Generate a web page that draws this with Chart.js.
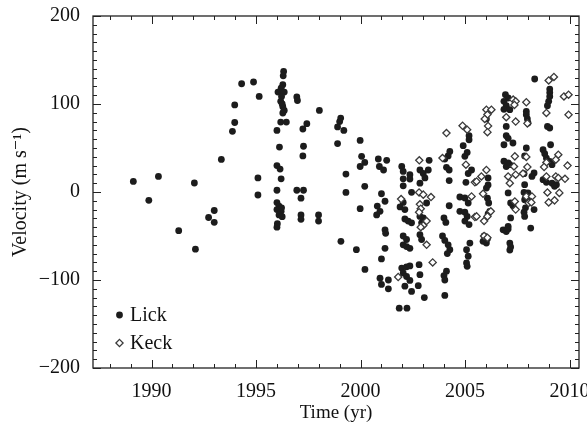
<!DOCTYPE html>
<html>
<head>
<meta charset="utf-8">
<script src="https://cdn.jsdelivr.net/npm/chart.js"></script>
<style>
  html, body { margin: 0; padding: 0; background: #fff; }
  #wrap { width: 587px; height: 426px; }
</style>
</head>
<body>
<div id="wrap"><canvas id="myChart" width="587" height="426"></canvas></div>
<script>
// Lick observations (year, m/s)
const lickYear = [
  1989.13, 1989.87, 1990.33, 1991.3, 1992.05, 1992.1, 1992.73, 1993.0, 1993.0, 1993.34,
  1993.87, 1993.98, 1993.98, 1994.31, 1994.88, 1995.15, 1995.09, 1995.09,
  1996.32, 1996.28, 1996.2, 1996.05, 1996.35, 1996.22, 1996.18, 1996.28, 1996.35, 1996.28,
  1996.18, 1996.45, 1996.0, 1996.12, 1996.0, 1996.15, 1996.2, 1996.0, 1996.0, 1996.1,
  1996.0, 1996.2, 1996.1, 1996.25, 1996.0, 1996.02, 1996.22, 1996.3, 1996.25,
  1996.95, 1996.98, 1997.43, 1997.24, 1997.27, 1997.24, 1996.95, 1997.27, 1997.15, 1997.15,
  1997.15, 1997.99, 1997.99, 1998.03,
  1999.05, 1999.0, 1998.9, 1999.2, 1998.9, 1999.98, 2000.05, 2000.2, 1999.98, 1999.3,
  2000.2, 1999.3, 1999.98, 1999.06, 1999.8, 2000.21,
  2000.85, 2001.25, 2000.9, 2001.1, 2001.0, 2001.17, 2000.8, 2000.93, 2000.77, 2001.17,
  2001.2, 2001.17, 2001.0, 2000.93, 2001.33, 2001.0, 2001.33, 2001.85, 2002.22,
  2001.97, 2002.04, 2002.36, 2002.04, 2002.36, 2002.04, 2002.44, 2002.04, 2001.89, 2002.12,
  2002.12, 2002.28, 2002.44, 2002.04, 2002.2, 2002.04, 2002.2, 2002.36,
  2001.97, 2002.2, 2002.36, 2002.04, 2002.2, 2002.36, 2002.12, 2002.44, 2002.8, 2002.84,
  2002.76, 2003.05,
  2003.28, 2002.84, 2003.0, 2003.24, 2003.08, 2002.84, 2003.16, 2002.84, 2003.0, 2003.08,
  2002.92, 2002.84, 2002.92,
  2004.27, 2004.19, 2004.03, 2004.11, 2004.24, 2004.24, 2004.24, 2003.99, 2004.08, 2003.92,
  2004.03, 2004.19, 2004.27, 2004.15, 2004.11, 2003.99, 2004.03, 2004.03,
  2005.19, 2005.19, 2004.91, 2005.1, 2004.99, 2005.31, 2005.15, 2005.04, 2004.75, 2004.99,
  2005.15, 2004.75, 2004.99, 2005.1, 2004.99, 2005.19, 2005.23, 2005.07, 2005.15, 2005.07,
  2005.1,
  2006.02, 2006.1, 2006.1, 2006.02, 2006.07, 2006.13, 2006.18, 2006.1, 2005.91, 2006.07,
  2006.02, 2005.86,
  2006.93, 2007.06, 2006.86, 2006.97, 2006.86, 2007.14, 2006.97, 2006.97, 2007.06, 2006.86,
  2007.29, 2006.86, 2007.06, 2006.97, 2007.14, 2007.06, 2007.18, 2007.29, 2007.18, 2007.06,
  2006.82, 2006.97, 2007.06, 2007.14, 2007.18, 2007.14,
  2008.33, 2007.93, 2007.93, 2007.98, 2008.01, 2007.93, 2007.85, 2008.3, 2008.2, 2007.82,
  2007.85, 2007.82, 2008.01, 2007.85, 2008.09, 2008.3, 2007.89, 2007.82, 2007.85, 2008.14,
  2009.05, 2009.05, 2009.05, 2009.0, 2008.94, 2008.94, 2009.05, 2009.09, 2008.73, 2008.81,
  2008.89, 2009.05, 2009.16, 2008.73, 2008.89, 2009.16, 2009.37, 2009.28
];
const lickVel = [
  12, -9.5, 17.7, -44, 10.2, -65, -29, -21, -34.5, 37,
  69, 79, 99, 123, 125, 108.6, 16, -3.4,
  137, 122, 118, 113.6, 113.6, 108.6, 103, 97, 92.7, 89.8,
  79.5, 79.5, 70, 51, 30, 26, 15, 2, -12, -16,
  -20, -22, -26, -28, -40, -36, -18, 132, 100,
  108, 104, 77.6, 71.6, 52, 41, 2, 2, -7, -26,
  -31, -26, -33, 92.7,
  84, 80, 74, 70, 55, 58.6, 40.5, 33.6, 29, 20.4,
  6.4, -0.5, -19, -56, -65.5, -88,
  37.5, 36, 29, 25, -2, -10.5, -16, -22, -26, -43,
  -47, -64, -76, -98, -100, -105, -110, -132, -132,
  29, 23.4, 19.7, 15, 14.8, 7, -0.4, -11.8, -17, -20,
  -30.7, -33, -35, -50, -54, -60, -62, -64,
  -86.4, -85, -84, -92, -96, -100.5, -107, -113, -82.6, -94,
  -106.5, -120,
  36, 25, 21, 25, 16, 10, -12.5, -27.7, -29.5, -33,
  -35, -48.5, -54,
  46, 41, 37.5, 28, 25, 13, -15.6, -29.5, -34.6, -50,
  -55, -60, -65.6, -70, -90, -95, -100, -117.5,
  64, 59.4, 52.6, 45, 40.5, 25, 21, 11, -5.7, -6.8,
  -12.5, -22, -23, -27.7, -33, -37, -58, -65.6, -73, -80.7,
  -84.5,
  83, 16, 8, 4.5, -7, -12.5, -22, -25, -50, -53,
  -58, -56,
  110.6, 106.8, 103, 98, 94, 93.5, 74.5, 64, 61, 53.7,
  55.7, 35, 33, 29, 31, -1, -12.5, -15.6, -29.5, -39,
  -43, -45, -42, -58, -62.5, -66,
  128.4, 91.6, 87.8, 83, 78.4, 50, 41, 21.6, 17.7, 20.8,
  8.3, -0.5, -1, -8.7, -9.5, -20, -18, -23, -27.7, -41,
  117, 113, 108.6, 103, 98, 74.5, 72.7, 53.7, 48, 43.5,
  38.6, 34.8, 31, 14, 11, 10, 8.3, 6.4
];

// Keck observations (year, m/s)
const keckYear = [
  2001.8, 2001.94, 2002.81, 2002.8, 2003.0, 2003.37, 2002.84, 2002.88, 2002.8, 2003.16,
  2003.0, 2002.88, 2003.16, 2003.45,
  2004.11, 2003.92, 2004.88, 2005.1, 2005.04, 2005.47, 2005.31, 2005.47,
  2006.02, 2006.26, 2006.07, 2005.94, 2006.1, 2006.07, 2006.02, 2005.78, 2005.55, 2005.86,
  2006.23, 2006.07, 2005.91, 2005.55, 2005.91, 2006.07,
  2007.3, 2007.42, 2007.36, 2006.97, 2007.42, 2007.38, 2007.34, 2007.06, 2007.14, 2007.42,
  2007.38, 2007.42,
  2007.93, 2007.98, 2007.93, 2007.98, 2007.77, 2007.93, 2008.2, 2008.04, 2008.17,
  2009.0, 2009.25, 2008.89, 2009.46, 2009.34, 2008.89, 2008.78, 2008.89, 2009.34, 2009.46,
  2008.94, 2009.51, 2009.0, 2009.28,
  2009.73, 2009.95, 2009.95, 2009.9, 2009.78
];
const keckVel = [
  -96.6, -8, 36, -0.5, -3, -5.7, -14, -19, -23, -33,
  -38, -40, -60, -80,
  67, 38.6, 75.3, 70.8, 31, 11, -5, -28.4,
  93.5, 93.5, 88, 83, 75, 68, 25, 17.7, 12, -2,
  -22, -27.7, -33, -27.7, -50, -52,
  105, 103, 99, 85, 80, 40.5, 29, 17.7, 10, 19.7,
  -10.7, -20,
  102, 78, 39.8, 28.4, 21, -5, -5, -12.5, -11.8,
  126.8, 130.7, 89.8, 42.4, 36.7, 33.6, 28.4, 17.7, 17.7, 16,
  -0.5, -1, -11.8, -9.5,
  108.6, 110.6, 87.8, 30, 15
];

const xTicks = [1990, 1995, 2000, 2005, 2010];
const yTicks = [-200, -100, 0, 100, 200];

const serif = '"Liberation Serif", "DejaVu Serif", serif';

function zip(xs, ys) {
  return xs.map((x, i) => ({ x: x, y: ys[i] }));
}

// inward tick marks on all four sides + frame
const frameTicks = {
  id: 'frameTicks',
  afterDraw(chart) {
    const { ctx, chartArea: a, scales: { x, y } } = chart;
    ctx.save();
    ctx.strokeStyle = '#222';
    ctx.lineWidth = 1;
    ctx.beginPath();
    for (let yr = Math.ceil(x.min); yr <= x.max; yr++) {
      const px = Math.round(x.getPixelForValue(yr)) + 0.5;
      const len = yr % 5 === 0 ? 8 : 4;
      ctx.moveTo(px, a.bottom); ctx.lineTo(px, a.bottom - len);
      ctx.moveTo(px, a.top); ctx.lineTo(px, a.top + len);
    }
    for (let v = y.min; v <= y.max; v += 10) {
      const py = Math.round(y.getPixelForValue(v)) + 0.5;
      const len = v % 100 === 0 ? 8 : 4;
      ctx.moveTo(a.left, py); ctx.lineTo(a.left + len, py);
      ctx.moveTo(a.right, py); ctx.lineTo(a.right - len, py);
    }
    ctx.stroke();
    ctx.lineWidth = 1.3;
    ctx.strokeRect(a.left, a.top, a.right - a.left, a.bottom - a.top);
    ctx.restore();
  }
};

// legend inside the plot, lower left
const innerLegend = {
  id: 'innerLegend',
  afterDraw(chart) {
    const { ctx, chartArea: a } = chart;
    const sets = chart.data.datasets;
    ctx.save();
    ctx.font = '20px ' + serif;
    ctx.textBaseline = 'middle';
    sets.forEach((ds, i) => {
      const cy = a.bottom - 53 + i * 28;
      const cx = a.left + 26.5;
      ctx.beginPath();
      if (ds.pointStyle === 'rectRot') {
        const r = ds.pointRadius;
        ctx.moveTo(cx, cy - r); ctx.lineTo(cx + r, cy); ctx.lineTo(cx, cy + r); ctx.lineTo(cx - r, cy); ctx.closePath();
        ctx.fillStyle = ds.backgroundColor; ctx.fill();
        ctx.strokeStyle = ds.borderColor; ctx.lineWidth = ds.borderWidth; ctx.stroke();
      } else {
        ctx.arc(cx, cy, ds.pointRadius, 0, Math.PI * 2);
        ctx.fillStyle = ds.backgroundColor; ctx.fill();
      }
      ctx.fillStyle = '#111';
      ctx.fillText(ds.label, a.left + 37, cy + 1);
    });
    ctx.restore();
  }
};

const ctx = document.getElementById('myChart');
new Chart(ctx, {
  type: 'scatter',
  data: {
    datasets: [{
      label: 'Lick',
      data: zip(lickYear, lickVel),
      pointStyle: 'circle',
      pointRadius: 3.4,
      backgroundColor: '#1c1c1c',
      borderColor: '#1c1c1c',
      borderWidth: 0,
      order: 2
    }, {
      label: 'Keck',
      data: zip(keckYear, keckVel),
      pointStyle: 'rectRot',
      pointRadius: 3.6,
      backgroundColor: '#ffffff',
      borderColor: '#3a3a3a',
      borderWidth: 1.3,
      order: 1
    }]
  },
  options: {
    responsive: false,
    animation: false,
    layout: { padding: { top: 16, right: 8, left: 0, bottom: 0 } },
    plugins: { legend: { display: false }, tooltip: { enabled: false } },
    scales: {
      x: {
        type: 'linear',
        min: 1987.2,
        max: 2010.45,
        grid: { display: false },
        border: { display: false },
        afterBuildTicks: s => { s.ticks = xTicks.map(v => ({ value: v })); },
        afterFit: s => { s.height = 58; s.paddingLeft = 0; s.paddingRight = 0; },
        ticks: {
          color: '#111',
          font: { family: serif, size: 20 },
          padding: 4,
          maxRotation: 0,
          callback: v => String(v)
        },
        title: {
          display: true,
          text: 'Time (yr)',
          color: '#111',
          font: { family: serif, size: 19, lineHeight: 1.2 },
          padding: { top: 0, bottom: 2 }
        }
      },
      y: {
        min: -200,
        max: 200,
        grid: { display: false },
        border: { display: false },
        afterBuildTicks: s => { s.ticks = yTicks.map(v => ({ value: v })); },
        afterFit: s => { s.width = 93; s.paddingTop = 0; s.paddingBottom = 0; },
        ticks: {
          color: '#111',
          font: { family: serif, size: 20 },
          padding: 5,
          callback: v => (v < 0 ? '\u2212' + Math.abs(v) : String(v))
        },
        title: {
          display: true,
          text: 'Velocity (m s\u207B\u00B9)',
          color: '#111',
          font: { family: serif, size: 20, lineHeight: 1.2 },
          padding: { top: 9, bottom: 0 }
        }
      }
    }
  },
  plugins: [frameTicks, innerLegend]
});
</script>
</body>
</html>
